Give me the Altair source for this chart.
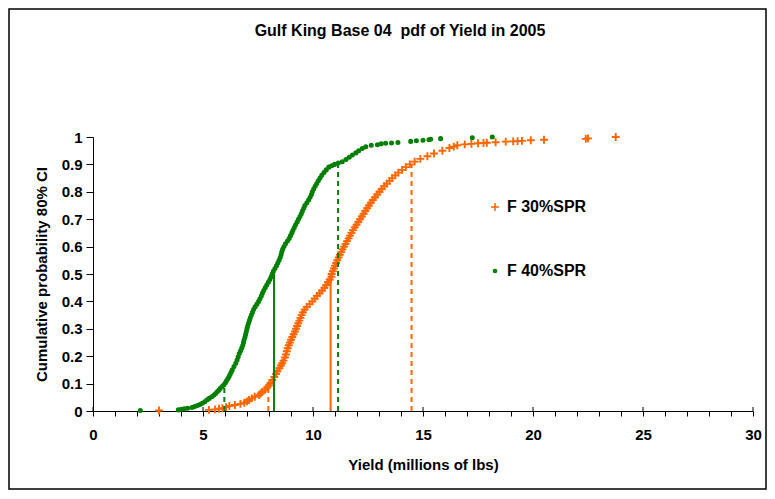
import altair as alt
import pandas as pd

# ---------------- data ----------------
TITLE = "Gulf King Base 04 \u00a0pdf of Yield in 2005"
X_TITLE = "Yield (millions of lbs)"
Y_TITLE = "Cumulative probability 80% CI"
SERIES = ["F 30%SPR", "F 40%SPR"]
COLORS = ["#FF6600", "#008000"]

# F 40%SPR (green dots): yield, cumulative probability
f40_x = [2.15, 3.88, 4.02, 4.15, 4.30, 4.50, 4.62, 4.75, 4.86, 4.97, 5.08, 5.18, 5.28, 5.40,
         5.50, 5.58, 5.65, 5.72, 5.78, 5.87, 5.95, 6.02, 6.07, 6.13, 6.18, 6.23, 6.28, 6.33,
         6.41, 6.49, 6.55, 6.60, 6.65, 6.71, 6.76, 6.81, 6.84, 6.87, 6.91, 6.94, 6.97, 7.00,
         7.03, 7.07, 7.11, 7.15, 7.20, 7.25, 7.30, 7.37, 7.45, 7.53, 7.59, 7.65, 7.70, 7.76,
         7.83, 7.90, 7.97, 8.04, 8.10, 8.15, 8.20, 8.27, 8.34, 8.40, 8.46, 8.51, 8.55, 8.58,
         8.62, 8.68, 8.75, 8.84, 8.92, 8.98, 9.04, 9.09, 9.15, 9.21, 9.28, 9.34, 9.41, 9.47,
         9.52, 9.58, 9.63, 9.72, 9.80, 9.87, 9.93, 9.97, 10.03, 10.10, 10.17, 10.24, 10.32,
         10.40, 10.50, 10.60, 10.72, 10.85, 10.98, 11.15, 11.33, 11.50, 11.65, 11.79, 11.95,
         12.08, 12.24, 12.40, 12.65, 12.93, 13.10, 13.30, 13.57, 13.86, 14.44, 14.70, 15.00,
         15.27, 15.35, 15.80, 17.24, 18.15]
f40_y = [0.002, 0.004, 0.006, 0.008, 0.010, 0.013, 0.016, 0.020, 0.024, 0.028, 0.034, 0.040,
         0.046, 0.052, 0.058, 0.064, 0.070, 0.076, 0.082, 0.089, 0.096, 0.103, 0.110, 0.118,
         0.125, 0.133, 0.141, 0.150, 0.162, 0.174, 0.186, 0.198, 0.210, 0.220, 0.230, 0.240,
         0.250, 0.260, 0.270, 0.280, 0.290, 0.300, 0.310, 0.320, 0.330, 0.340, 0.350, 0.360,
         0.370, 0.380, 0.390, 0.400, 0.410, 0.420, 0.430, 0.440, 0.450, 0.460, 0.470, 0.480,
         0.490, 0.500, 0.510, 0.520, 0.530, 0.540, 0.550, 0.560, 0.570, 0.580, 0.590, 0.600,
         0.610, 0.620, 0.630, 0.640, 0.650, 0.660, 0.670, 0.680, 0.690, 0.700, 0.710, 0.720,
         0.730, 0.740, 0.750, 0.760, 0.770, 0.780, 0.790, 0.800, 0.810, 0.820, 0.830, 0.840,
         0.850, 0.860, 0.870, 0.880, 0.890, 0.895, 0.900, 0.905, 0.910, 0.918, 0.926, 0.934,
         0.942, 0.950, 0.958, 0.964, 0.970, 0.972, 0.975, 0.977, 0.978, 0.980, 0.984, 0.986,
         0.988, 0.990, 0.992, 0.994, 0.997, 1.000]

# F 30%SPR (orange crosses): yield, cumulative probability
f30_x = [3.00, 5.27, 5.55, 5.73, 5.88, 6.05, 6.20, 6.45, 6.70, 6.88, 7.00, 7.09, 7.22, 7.35,
         7.55, 7.62, 7.70, 7.82, 7.92, 8.00, 8.07, 8.15, 8.24, 8.32, 8.38, 8.47, 8.54, 8.60,
         8.66, 8.72, 8.77, 8.81, 8.85, 8.90, 8.95, 9.00, 9.06, 9.12, 9.18, 9.23, 9.28, 9.33,
         9.38, 9.43, 9.48, 9.54, 9.62, 9.72, 9.85, 9.97, 10.08, 10.18, 10.30, 10.41, 10.52,
         10.60, 10.68, 10.76, 10.84, 10.85, 10.90, 10.95, 11.00, 11.05, 11.10, 11.17, 11.22,
         11.28, 11.34, 11.41, 11.48, 11.55, 11.62, 11.68, 11.75, 11.82, 11.90, 11.98, 12.06,
         12.14, 12.22, 12.30, 12.38, 12.46, 12.54, 12.63, 12.72, 12.82, 12.92, 13.02, 13.12,
         13.24, 13.36, 13.48, 13.60, 13.74, 13.88, 14.05, 14.22, 14.40, 14.62, 14.88, 15.20,
         15.50, 15.88, 16.20, 16.40, 16.56, 16.90, 17.20, 17.50, 17.75, 17.90, 18.30, 18.76,
         19.10, 19.30, 19.50, 19.90, 20.50, 22.40, 22.50, 23.76]
f30_y = [0.002, 0.004, 0.006, 0.008, 0.010, 0.014, 0.018, 0.022, 0.026, 0.030, 0.035, 0.040,
         0.046, 0.052, 0.058, 0.064, 0.070, 0.078, 0.086, 0.094, 0.102, 0.113, 0.124, 0.135,
         0.145, 0.156, 0.166, 0.174, 0.184, 0.195, 0.206, 0.218, 0.229, 0.240, 0.250, 0.260,
         0.270, 0.280, 0.290, 0.300, 0.310, 0.320, 0.330, 0.340, 0.350, 0.360, 0.370, 0.380,
         0.390, 0.400, 0.410, 0.420, 0.430, 0.440, 0.450, 0.460, 0.470, 0.480, 0.490, 0.500,
         0.510, 0.520, 0.530, 0.540, 0.550, 0.560, 0.570, 0.580, 0.590, 0.600, 0.610, 0.620,
         0.630, 0.640, 0.650, 0.660, 0.670, 0.680, 0.690, 0.700, 0.710, 0.720, 0.730, 0.740,
         0.750, 0.760, 0.770, 0.780, 0.790, 0.800, 0.810, 0.820, 0.830, 0.840, 0.850, 0.860,
         0.870, 0.880, 0.890, 0.900, 0.910, 0.920, 0.930, 0.940, 0.950, 0.960, 0.965, 0.970,
         0.973, 0.975, 0.977, 0.978, 0.979, 0.981, 0.983, 0.984, 0.985, 0.986, 0.988, 0.990,
         0.993, 0.995, 1.000]

# 10th / 50th / 90th percentile markers
pct_series = ["F 40%SPR", "F 40%SPR", "F 40%SPR", "F 30%SPR", "F 30%SPR", "F 30%SPR"]
pct_x = [5.97, 8.23, 11.14, 7.97, 10.80, 14.48]
pct_top = [0.10, 0.50, 0.90, 0.10, 0.50, 0.90]
pct_style = ["dash", "solid", "dash", "dash", "solid", "dash"]

x_ticks = list(range(0, 31))
x_major = [0, 5, 10, 15, 20, 25, 30]
y_ticks = [0, 0.1, 0.2, 0.3, 0.4, 0.5, 0.6, 0.7, 0.8, 0.9, 1.0]

# ---------------- chart ----------------
FONT = "Liberation Sans"
W, H = 660, 274
PLUS = "M-2.5,0L2.5,0M0,-2.5L0,2.5"

pts = pd.concat([
    pd.DataFrame({"x": f40_x, "y": f40_y, "series": "F 40%SPR"}),
    pd.DataFrame({"x": f30_x, "y": f30_y, "series": "F 30%SPR"}),
], ignore_index=True)
pts["ord"] = range(len(pts))

pct = pd.DataFrame({"x": pct_x, "y0": 0.0, "top": pct_top,
                    "series": pct_series, "style": pct_style})

xscale = alt.Scale(domain=[0, 30], nice=False, zero=False)
yscale = alt.Scale(domain=[0, 1], nice=False)
cscale = alt.Scale(domain=SERIES, range=COLORS)

legend = alt.Legend(orient="none", legendX=394, legendY=62, title=None,
                    labelFont=FONT, labelFontSize=16, labelFontWeight="bold",
                    labelColor="black", rowPadding=48, symbolSize=10, labelOffset=4,
                    symbolStrokeWidth=1.5, padding=0)

x_axis = alt.Axis(values=x_ticks, labelExpr="datum.value % 5 === 0 ? datum.label : ''",
                  title=X_TITLE, grid=False, tickSize=5, labelPadding=11, labelFlush=False,
                  labelOverlap=False, titlePadding=15)
y_axis = alt.Axis(values=y_ticks, format=".1~f", title=Y_TITLE, grid=False, tickSize=7,
                  labelPadding=4, labelFlush=False, labelOverlap=False, titlePadding=12)

X = lambda f: alt.X(f, scale=xscale, axis=x_axis)
Y = lambda f: alt.Y(f, scale=yscale, axis=y_axis)

points = alt.Chart(pts).mark_point(filled=True, opacity=1, size=10, strokeWidth=1.9).encode(
    x=X("x:Q"),
    y=Y("y:Q"),
    color=alt.Color("series:N", scale=cscale, legend=legend),
    stroke=alt.Stroke("series:N", scale=cscale, legend=legend),
    shape=alt.Shape("series:N", scale=alt.Scale(domain=SERIES, range=[PLUS, "circle"]),
                    legend=legend),
    order=alt.Order("ord:Q"),
)

rules = alt.Chart(pct).mark_rule(strokeWidth=2).encode(
    x=X("x:Q"),
    y=Y("y0:Q"),
    y2="top:Q",
    stroke=alt.Stroke("series:N", scale=cscale, legend=legend),
    strokeDash=alt.StrokeDash("style:N",
                              scale=alt.Scale(domain=["solid", "dash"], range=[[1, 0], [5, 4]]),
                              legend=None),
)

major_up = alt.Chart(pd.DataFrame({"x": x_major})).mark_rule(color="black", strokeWidth=1).encode(
    x=X("x:Q"), y=alt.value(H - 4), y2=alt.value(H)
)

frame = alt.Chart(pd.DataFrame({"a": [0]})).mark_rect(
    fill=None, stroke="black", strokeWidth=1.5
).encode(x=alt.value(-84), x2=alt.value(673), y=alt.value(-128), y2=alt.value(352))

title = alt.Chart(pd.DataFrame({"t": [TITLE]})).mark_text(
    font=FONT, fontSize=16, fontWeight="bold", color="black", align="center", baseline="middle"
).encode(text="t:N", x=alt.value(307), y=alt.value(-106))

chart = alt.layer(frame, points, rules, major_up, title).properties(
    width=W, height=H,
    autosize=alt.AutoSizeParams(type="none"),
    padding={"left": 85, "top": 129, "right": 14, "bottom": 80},
    background="white",
).configure_view(stroke=None).configure_axis(
    labelFont=FONT, labelFontSize=15, labelFontWeight="bold", labelColor="black",
    titleFont=FONT, titleFontSize=15, titleFontWeight="bold", titleColor="black",
    domainColor="black", domainWidth=1, tickColor="black", tickWidth=1,
)

chart.save("out.html", embed_options={"renderer": "svg", "actions": False})
